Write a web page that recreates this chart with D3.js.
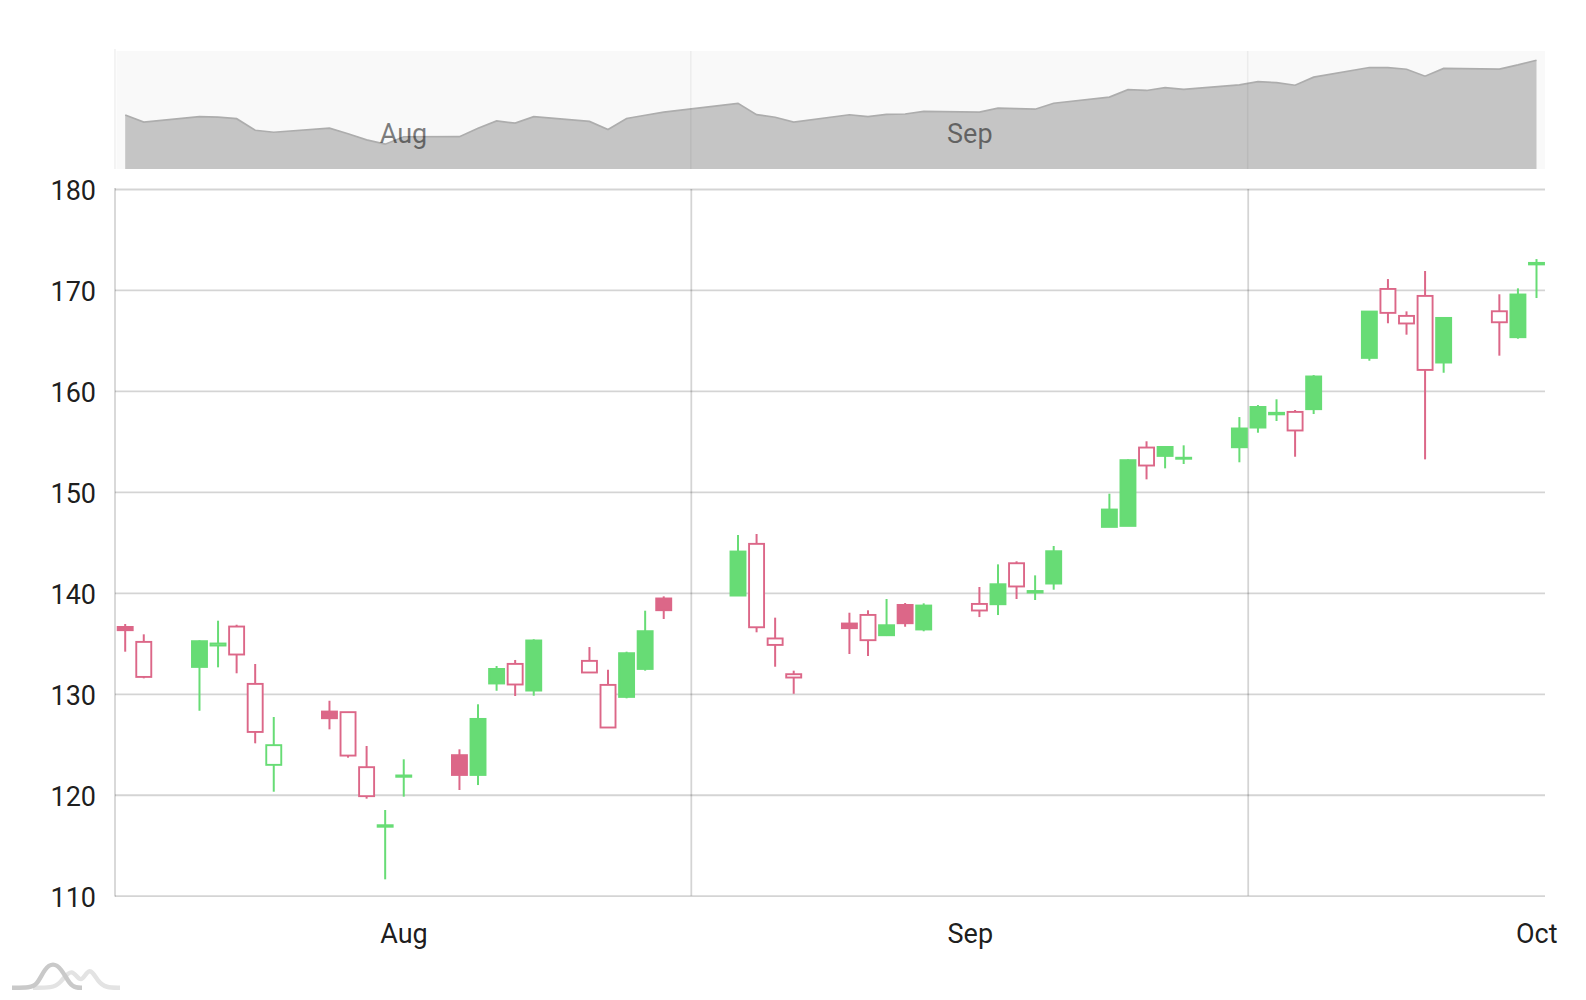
<!DOCTYPE html>
<html>
<head>
<meta charset="utf-8">
<script src="https://cdn.jsdelivr.net/npm/d3@7/dist/d3.min.js"></script>
<style>
html,body{margin:0;padding:0;background:#fff;}
svg{display:block;}
text{font-family:Roboto,sans-serif;}
</style>
</head>
<body>
<svg id="chart" width="1586" height="1000"></svg>
<script>
const days = [0,1,4,5,6,7,8,11,12,13,14,15,18,19,20,21,22,25,26,27,28,29,33,34,35,36,39,40,41,42,43,46,47,48,49,50,53,54,55,56,57,60,61,62,63,64,67,68,69,70,71,74,75,76];
const opens = [136.64,135.16,132.68,134.8,136.68,131.0,122.98,128.26,128.2,122.75,116.85,121.8,123.94,121.98,131.04,132.98,130.34,133.28,130.9,129.71,132.48,139.46,139.75,144.87,135.5,131.96,136.98,137.83,135.82,138.82,136.39,138.92,138.89,142.95,140.05,140.94,146.55,146.65,154.41,153.58,153.3,154.44,156.39,157.7,157.94,158.21,163.29,170.12,167.45,169.43,162.83,167.91,165.34,172.55];
const closes = [136.32,131.69,135.23,135.0,133.91,126.24,124.93,127.6,123.9,119.88,117.0,121.93,121.98,127.53,132.48,130.94,135.3,132.13,126.68,134.04,136.22,138.3,144.11,136.61,134.86,131.63,136.52,135.33,136.81,137.01,138.76,138.27,140.87,140.65,140.2,144.14,148.27,153.16,152.63,154.47,153.4,156.3,158.43,157.85,156.1,161.45,167.88,167.75,166.7,162.1,167.25,166.82,169.57,172.7];
const highs = [136.91,135.89,135.3,137.24,136.84,132.95,127.7,129.31,128.2,124.83,118.49,123.51,124.5,128.96,132.75,133.35,135.4,134.63,132.38,134.17,138.23,139.65,145.73,145.83,137.54,132.29,138.03,138.27,139.39,138.99,138.96,140.58,142.82,143.12,141.73,144.64,149.82,153.22,155.01,154.51,154.61,157.41,158.6,159.17,158.11,161.57,167.88,171.08,167.88,171.88,167.29,169.57,170.16,173.06];
const lows = [134.17,131.53,128.32,132.62,132.03,125.09,120.3,126.48,123.67,119.61,111.62,119.81,120.47,120.96,130.3,129.78,129.81,132.09,126.64,129.55,132.29,137.41,139.75,136.09,132.68,130.0,133.94,133.74,135.72,136.64,136.19,137.6,137.8,139.39,139.29,140.31,146.55,146.65,151.24,152.33,152.76,152.93,155.86,157.02,153.48,157.71,162.99,166.7,165.57,153.22,161.8,163.49,165.17,169.2];

const priceTicks = [110,120,130,140,150,160,170,180];
const monthLabels = ["Aug","Sep","Oct"];
const monthLabelDays = [15,45.5,76];
const monthGridDays = [30.48,60.47];
const previewLabelCount = 2;

const GREEN = "#67dc75", PINK = "#dc6788";
const FONT = 27;
const svg = d3.select("#chart");

const x = d3.scaleLinear().domain([0,76]).range([125.2,1536.5]);
const plotLeft = 115, plotRight = 1545;
const y = d3.scaleLinear().domain([110,180]).range([895.7,189]);
const py = d3.scaleLinear().domain([116.93,172.64]).range([144.3,60.3]);
const previewTop = 51, previewBottom = 169;

// ---------- preview / scrollbar ----------
const preview = svg.append("g");
preview.append("rect").attr("x",plotLeft+1.5).attr("y",previewTop)
  .attr("width",plotRight-plotLeft-1.5).attr("height",previewBottom-previewTop).attr("fill","#f9f9f9");
preview.append("line").attr("x1",plotLeft).attr("x2",plotLeft).attr("y1",49).attr("y2",previewBottom)
  .attr("stroke","#000").attr("stroke-opacity",.06).attr("stroke-width",1.6);

const pts = days.map((d,i)=>({d,c:closes[i]}));
preview.append("path").datum(pts)
  .attr("d",d3.area().x(p=>x(p.d)).y0(previewBottom).y1(p=>py(p.c)))
  .attr("fill","#c5c5c5");
preview.append("path").datum(pts)
  .attr("d",d3.line().x(p=>x(p.d)).y(p=>py(p.c)))
  .attr("fill","none").attr("stroke","#adadad").attr("stroke-width",1.7);
preview.selectAll("line.pg").data(monthGridDays).join("line").attr("class","pg")
  .attr("x1",d=>x(d)-.4).attr("x2",d=>x(d)-.4).attr("y1",previewTop).attr("y2",previewBottom)
  .attr("stroke","#000").attr("stroke-opacity",.05).attr("stroke-width",1.6);
preview.selectAll("text").data(monthLabelDays.slice(0,previewLabelCount)).join("text")
  .attr("x",d=>x(d)-.3).attr("y",134).attr("dy","0.35em").attr("text-anchor","middle")
  .attr("font-size",FONT).attr("fill","#000").attr("fill-opacity",.5)
  .text((d,i)=>monthLabels[i]);

// ---------- grid + axes ----------
const yGrid = d3.axisLeft(y).tickValues(priceTicks).tickSize(-(plotRight-plotLeft)).tickFormat("");
const gy = svg.append("g").attr("transform",`translate(${plotLeft},0)`).call(yGrid);
gy.select(".domain").remove();
gy.selectAll("line").attr("stroke","#000").attr("stroke-opacity",.17).attr("stroke-width",1.8);

const xGrid = d3.axisBottom(x).tickValues(monthGridDays).tickSize(-(y(110)-y(180))).tickFormat("");
const gx = svg.append("g").attr("transform",`translate(-0.4,${y(110)})`).call(xGrid);
gx.select(".domain").remove();
gx.selectAll("line").attr("stroke","#000").attr("stroke-opacity",.17).attr("stroke-width",1.8);

svg.append("line").attr("x1",plotLeft).attr("x2",plotLeft).attr("y1",y(180)-.9).attr("y2",y(110)+.9)
  .attr("stroke","#000").attr("stroke-opacity",.17).attr("stroke-width",1.8);

const yAxis = d3.axisLeft(y).tickValues(priceTicks).tickSize(0).tickPadding(19).tickFormat(d3.format("d"));
const ya = svg.append("g").attr("transform",`translate(${plotLeft},0)`).call(yAxis);
ya.select(".domain").remove();
ya.selectAll("text").attr("dy",10.9).attr("font-size",FONT).attr("font-family","Roboto,sans-serif").attr("fill","#000").attr("fill-opacity",.9);

const xAxis = d3.axisBottom(x).tickValues(monthLabelDays).tickSize(0).tickPadding(0)
  .tickFormat((d,i)=>monthLabels[i]);
const xa = svg.append("g").attr("transform",`translate(-0.3,${y(110)})`).call(xAxis);
xa.select(".domain").remove();
xa.selectAll("text").attr("y",37.7).attr("dy","0.35em").attr("font-size",FONT)
  .attr("font-family","Roboto,sans-serif").attr("fill","#000").attr("fill-opacity",.9);

// ---------- candles ----------
const bodyW = 15;
const candles = days.map((d,i)=>({d,o:opens[i],c:closes[i],h:highs[i],l:lows[i],prev:i?closes[i-1]:null}));
const cg = svg.append("g").selectAll("g").data(candles).join("g");
const colorOf = k => k.c >= k.o ? GREEN : PINK;
cg.append("line").attr("x1",k=>x(k.d)).attr("x2",k=>x(k.d))
  .attr("y1",k=>y(k.h)).attr("y2",k=>y(k.l))
  .attr("stroke",colorOf).attr("stroke-width",2);
cg.append("rect")
  .attr("x",k=>x(k.d)-bodyW/2).attr("width",bodyW)
  .attr("y",k=>y(Math.max(k.o,k.c))+.2).attr("height",k=>Math.abs(y(k.o)-y(k.c)))
  .attr("stroke",colorOf).attr("stroke-width",1.9)
  .attr("fill",k=>(k.prev===null||k.c>k.prev)?colorOf(k):"#fff");

// ---------- logo ----------
const logo = svg.append("g").attr("fill","none").attr("stroke-width",4.4).attr("stroke-linecap","butt");
const logoLine = d3.line().curve(d3.curveBasis);
logo.append("path").attr("stroke","#e3e3e3")
  .attr("d",logoLine([[33,987.7],[52,987.7],[60,984],[72,966],[81,986],[89,965],[98,982],[106,987.7],[120,987.7]]));
logo.append("path").attr("stroke","#c9c9c9")
  .attr("d",logoLine([[12,987.7],[30,987.7],[37,985],[45,968],[53,963],[61,968],[70,985],[76,987.7],[82,987.7]]));
</script>
</body>
</html>
